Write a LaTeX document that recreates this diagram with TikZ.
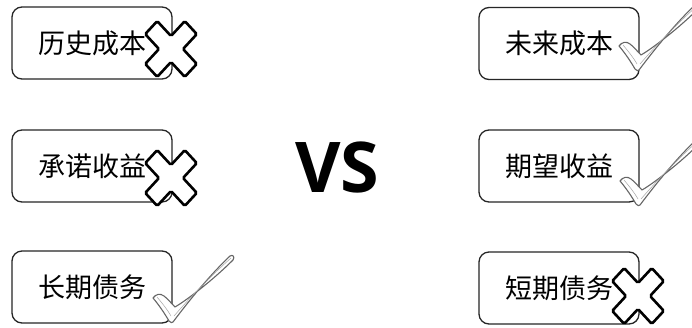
\documentclass[tikz,border=0pt]{standalone}
\usepackage{fontspec}
\newfontfamily\cjk{Noto Sans CJK SC}
\newfontfamily\vsfont{Open Sans}
\usetikzlibrary{calc}
\tikzset{
  box/.style={draw=black!85, line width=1.3pt, rounded corners=10pt, fill=white,
    minimum width=160pt, minimum height=72pt, inner sep=0pt,
    font=\cjk\fontsize{27}{27}\selectfont},
  xmark/.pic={
    \draw[line width=2.6pt, draw=black, fill=white, rounded corners=1.5pt, yscale=1.08, rotate=45]
      (8.5,28) -- (8.5,8.5) -- (28,8.5) -- (28,-8.5) -- (8.5,-8.5) -- (8.5,-28)
      -- (-8.5,-28) -- (-8.5,-8.5) -- (-28,-8.5) -- (-28,8.5) -- (-8.5,8.5) -- (-8.5,28) -- cycle;
  },
  checkmark/.pic={
    \draw[line width=1.1pt, draw=black!60, fill=white, line join=round]
      (0,0) .. controls (18,-24) and (38,-48) .. (57,-66)
      .. controls (60,-68) and (62,-65) .. (60,-62)
      .. controls (40,-42) and (14,-22) .. (2,-15)
      .. controls (-2,-19) and (-5,-23) .. (-9,-26)
      .. controls (-13,-29) and (-17,-28) .. (-20,-24)
      .. controls (-14,-17) and (-8,-8) .. (-4,-1)
      .. controls (-2,1) and (-1,1) .. (0,0) -- cycle;
    \draw[line width=0.5pt, draw=black!35]
      (1,-6) .. controls (20,-28) and (40,-48) .. (58,-64);
    \draw[line width=0.5pt, draw=black!35]
      (-2,-6) .. controls (-6,-13) and (-11,-19) .. (-16,-25);
  }
}
\begin{document}
\begin{tikzpicture}[x=1pt,y=-1pt]
\useasboundingbox[fill=white] (0,0) rectangle (692,327);
\node[box] (b1) at (92,43) {历史成本};
\node[box] (b3) at (92,166) {承诺收益};
\node[box] (b5) at (92,287) {长期债务};
\node[box] (b2) at (559,43.5) {未来成本};
\node[box] (b4) at (559,166) {期望收益};
\node[box] (b6) at (559,288) {短期债务};
\node[font=\vsfont\bfseries\fontsize{70}{70}\selectfont, inner sep=0pt] (vs) at (337.5,167) {VS};
\pic at (171,49) {xmark};
\pic at (171,178) {xmark};
\pic at (638,296) {xmark};
\pic at (639,70) {checkmark};
\pic at (640,205) {checkmark};
\pic at (173,322) {checkmark};
\end{tikzpicture}
\end{document}
